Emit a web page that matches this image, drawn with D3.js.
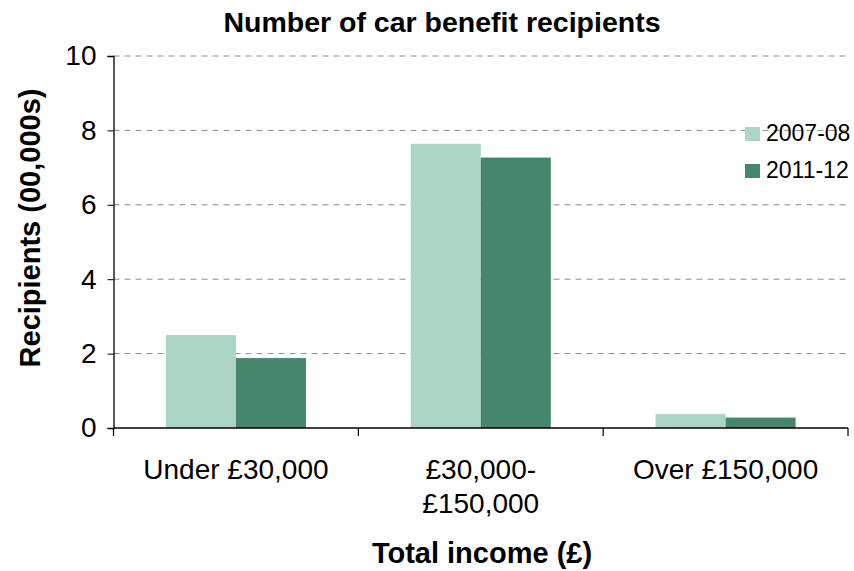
<!DOCTYPE html>
<html>
<head>
<meta charset="utf-8">
<script src="https://cdn.jsdelivr.net/npm/d3@7"></script>
<style>
  html, body { margin: 0; padding: 0; background: #fff; }
  svg { display: block; font-family: "Liberation Sans", Arial, sans-serif; }
</style>
</head>
<body>
<svg id="chart" width="854" height="571"></svg>
<script>
// Car benefit recipients by total income band (hundreds of thousands)
const categories = [["Under £30,000"], ["£30,000-", "£150,000"], ["Over £150,000"]];
const seriesNames = ["2007-08", "2011-12"];
const values2007 = [2.5, 7.64, 0.38];
const values2011 = [1.88, 7.27, 0.28];
const yTicks = [0, 2, 4, 6, 8, 10];
const colors = ["#add5c5", "#46866d"];

const svg = d3.select("#chart");
const margin = { left: 113.5, right: 6, top: 56, bottom: 143 };
const W = 854, H = 571;
const plotW = W - margin.left - margin.right;
const plotH = H - margin.top - margin.bottom;

const g = svg.append("g").attr("transform", `translate(${margin.left},${margin.top})`);

const x0 = d3.scaleBand().domain(d3.range(categories.length)).range([0, plotW]).padding(0);
const x1 = d3.scaleBand().domain(seriesNames)
  .range([x0.bandwidth() * 0.214, x0.bandwidth() * 0.786]).padding(0);
const y = d3.scaleLinear().domain([0, 10]).range([plotH, 0]);

// dashed gridlines
g.append("g").selectAll("line").data(yTicks.filter(d => d > 0)).join("line")
  .attr("x1", 0).attr("x2", plotW)
  .attr("y1", d => y(d)).attr("y2", d => y(d))
  .attr("stroke", "#8c8c8c").attr("stroke-width", 1)
  .attr("stroke-dasharray", "6,5");

// bars
const series = [values2007, values2011];
const groups = g.append("g").selectAll("g").data(categories.map((c, i) => i)).join("g")
  .attr("transform", i => `translate(${x0(i)},0)`);
groups.selectAll("rect").data(i => seriesNames.map((s, k) => ({ s, k, v: series[k][i] }))).join("rect")
  .attr("x", d => x1(d.s)).attr("width", x1.bandwidth())
  .attr("y", d => y(d.v)).attr("height", d => plotH - y(d.v))
  .attr("fill", d => colors[d.k]);

// y axis
const yAxis = g.append("g")
  .call(d3.axisLeft(y).tickValues(yTicks).tickSize(6).tickPadding(11).tickFormat(d3.format("d")));
yAxis.select(".domain").attr("stroke", "#000").attr("stroke-width", 1.3);
yAxis.selectAll(".tick line").attr("stroke", "#000");
yAxis.selectAll("text").attr("font-size", 28).attr("fill", "#000")
  .attr("font-family", "Liberation Sans, Arial, sans-serif");

// x axis baseline and category separators
const xAxis = g.append("g").attr("transform", `translate(0,${plotH})`);
xAxis.append("line").attr("x1", 0).attr("x2", plotW).attr("stroke", "#000").attr("stroke-width", 1.3);
xAxis.selectAll("line.sep").data(d3.range(categories.length + 1)).join("line")
  .attr("class", "sep")
  .attr("x1", i => i * x0.bandwidth()).attr("x2", i => i * x0.bandwidth())
  .attr("y1", 0).attr("y2", 8).attr("stroke", "#000").attr("stroke-width", 1.2);
const labels = xAxis.selectAll("text.cat").data(categories).join("text")
  .attr("class", "cat")
  .attr("text-anchor", "middle")
  .attr("font-size", 28)
  .attr("fill", "#000")
  .attr("transform", (c, i) => `translate(${x0(i) + x0.bandwidth() / 2},51)`);
labels.selectAll("tspan").data(c => c).join("tspan")
  .attr("x", 0).attr("dy", (d, j) => j === 0 ? 0 : 34)
  .text(d => d);

// title
svg.append("text").attr("x", 442).attr("y", 32).attr("text-anchor", "middle")
  .attr("font-size", 28.5).attr("font-weight", "bold").text("Number of car benefit recipients");

// axis titles
svg.append("text").attr("x", 482).attr("y", 563).attr("text-anchor", "middle")
  .attr("font-size", 29).attr("font-weight", "bold").text("Total income (£)");
svg.append("text").attr("transform", "translate(40,228) rotate(-90)").attr("text-anchor", "middle")
  .attr("font-size", 29).attr("font-weight", "bold").text("Recipients (00,000s)");

// legend
const legend = svg.append("g").attr("transform", "translate(745,127)");
const li = legend.selectAll("g").data(seriesNames).join("g")
  .attr("transform", (d, i) => `translate(0,${i * 37})`);
li.append("rect").attr("width", 15).attr("height", 14).attr("fill", (d, i) => colors[i]);
li.append("text").attr("x", 21).attr("y", 14).attr("font-size", 23).attr("fill", "#000").text(d => d);
</script>
</body>
</html>
